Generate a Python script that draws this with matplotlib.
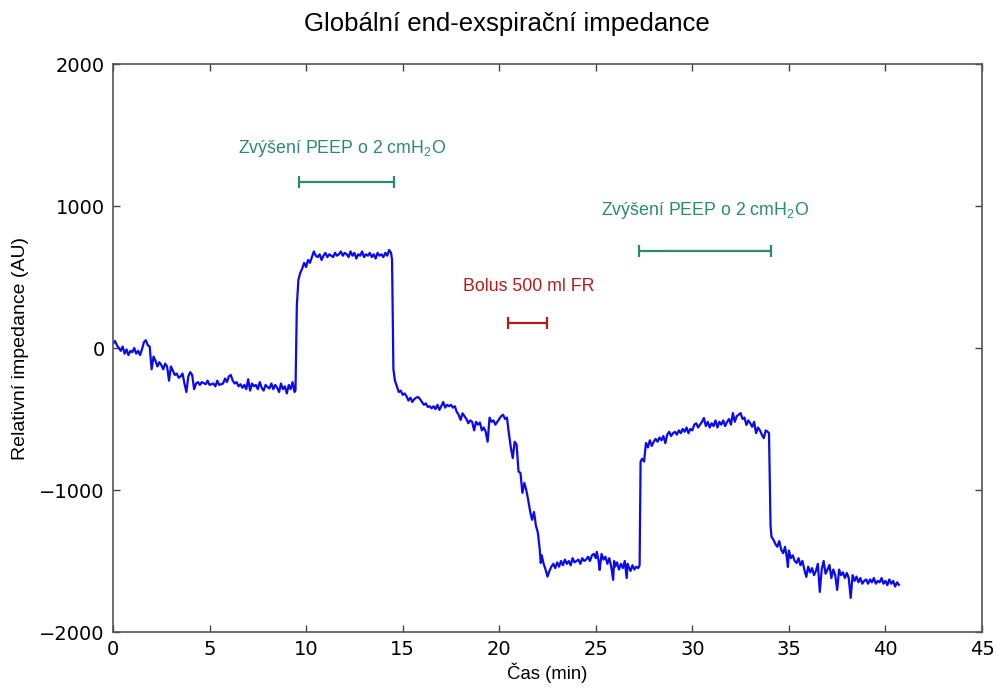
import matplotlib
matplotlib.use("Agg")
import matplotlib.pyplot as plt

plt.rcParams['mathtext.fontset'] = 'custom'
plt.rcParams['mathtext.rm'] = 'Liberation Sans'

# ---- data (time in min, relative impedance in AU) ----
t = [0.0, 0.1, 0.2, 0.3, 0.4, 0.5, 0.6, 0.7, 0.8, 0.9, 1.0, 1.1, 1.2, 1.3, 1.4, 1.5, 1.6, 1.7, 1.8, 1.9,
     2.0, 2.1, 2.2, 2.3, 2.4, 2.5, 2.6, 2.7, 2.8, 2.9, 3.0, 3.1, 3.2, 3.3, 3.4, 3.5, 3.6, 3.7, 3.8, 3.9,
     4.0, 4.1, 4.2, 4.3, 4.4, 4.5, 4.6, 4.8, 4.9, 5.0, 5.2, 5.3, 5.4, 5.5, 5.7, 5.8, 5.9, 6.0, 6.1, 6.2,
     6.3, 6.4, 6.5, 6.6, 6.7, 6.8, 6.9, 7.0, 7.1, 7.2, 7.3, 7.4, 7.5, 7.6, 7.7, 7.8, 7.9, 8.0, 8.1, 8.2,
     8.3, 8.4, 8.5, 8.6, 8.7, 8.8, 8.9, 9.0, 9.1, 9.2, 9.3, 9.4, 9.45,
     9.52, 9.6, 9.7, 9.8, 9.9, 10.0, 10.1, 10.2, 10.3, 10.4, 10.5, 10.6, 10.7, 10.8, 10.9, 11.0, 11.1, 11.2,
     11.3, 11.4, 11.5, 11.6, 11.7, 11.8, 11.9, 12.0, 12.1, 12.2, 12.3, 12.4, 12.5, 12.6, 12.7, 12.8, 12.9,
     13.0, 13.1, 13.2, 13.3, 13.4, 13.5, 13.6, 13.7, 13.8, 13.9, 14.0, 14.1, 14.2, 14.3, 14.4, 14.45,
     14.52, 14.6, 14.7, 14.8, 14.9, 15.0, 15.1, 15.2, 15.3, 15.4, 15.5, 15.6, 15.7, 15.8, 15.9, 16.0, 16.1,
     16.2, 16.3, 16.4, 16.5, 16.6, 16.7, 16.8, 16.9, 17.0, 17.1, 17.2, 17.3, 17.4, 17.5, 17.6, 17.7, 17.8,
     17.9, 18.0, 18.1, 18.2, 18.3, 18.4, 18.5, 18.6, 18.7, 18.8, 18.9, 19.0, 19.1, 19.2, 19.3, 19.4, 19.5,
     19.6, 19.7, 19.8, 19.9, 20.0, 20.1, 20.2, 20.3, 20.4, 20.5, 20.6, 20.7, 20.8, 20.9, 21.0, 21.1, 21.2,
     21.3, 21.4, 21.5, 21.6, 21.7, 21.8, 21.9, 22.0, 22.1, 22.15, 22.2, 22.3, 22.4, 22.5, 22.6, 22.7, 22.8,
     22.9, 23.0, 23.1, 23.2, 23.3, 23.4, 23.5, 23.6, 23.7, 23.8, 23.9, 24.0, 24.1, 24.2, 24.3, 24.4, 24.5,
     24.6, 24.7, 24.8, 24.9, 25.0, 25.05, 25.15, 25.2, 25.3, 25.4, 25.5, 25.6, 25.7, 25.8, 25.9, 25.95,
     26.0, 26.1, 26.2, 26.3, 26.4, 26.5, 26.6, 26.65, 26.7, 26.8, 26.9, 27.0, 27.1, 27.2, 27.27,
     27.32, 27.4, 27.5, 27.6, 27.7, 27.8, 27.9, 28.0, 28.1, 28.2, 28.3, 28.4, 28.5, 28.6, 28.7, 28.8, 28.9,
     29.0, 29.1, 29.2, 29.3, 29.4, 29.5, 29.6, 29.7, 29.8, 29.9, 30.0, 30.1, 30.2, 30.3, 30.4, 30.5, 30.6,
     30.7, 30.8, 30.9, 31.0, 31.1, 31.2, 31.3, 31.4, 31.5, 31.6, 31.7, 31.8, 31.9, 32.0, 32.1, 32.2, 32.3,
     32.4, 32.5, 32.6, 32.7, 32.8, 32.9, 33.0, 33.1, 33.2, 33.3, 33.4, 33.5, 33.6, 33.7, 33.8, 33.9, 33.97,
     34.05, 34.1, 34.2, 34.3, 34.4, 34.5, 34.6, 34.7, 34.8, 34.9, 34.95, 35.0, 35.1, 35.2, 35.3, 35.4,
     35.5, 35.6, 35.7, 35.8, 35.9, 36.0, 36.1, 36.2, 36.3, 36.4, 36.5, 36.6, 36.7, 36.8, 36.9, 37.0, 37.1,
     37.2, 37.3, 37.4, 37.5, 37.6, 37.7, 37.8, 37.9, 38.0, 38.1, 38.2, 38.3, 38.4, 38.5, 38.6, 38.7, 38.8,
     38.9, 39.0, 39.1, 39.2, 39.3, 39.4, 39.5, 39.6, 39.7, 39.8, 39.9, 40.0, 40.1, 40.2, 40.3, 40.4, 40.5,
     40.6, 40.7]

impedance = [30, 50, 20, 0, -20, 10, -40, -10, -50, -20, -30, 0, -40, -20, -50, -10, 40, 55, 20, 10,
     -150, -60, -90, -130, -100, -120, -150, -110, -130, -230, -130, -160, -190, -180, -210, -200, -180, -250, -310, -200,
     -170, -190, -290, -250, -240, -260, -240, -255, -230, -260, -250, -270, -230, -260, -250, -215, -240, -200, -190, -230,
     -250, -240, -270, -255, -280, -260, -290, -220, -300, -250, -270, -260, -290, -240, -280, -300, -260, -275, -285, -250,
     -290, -260, -280, -310, -250, -290, -270, -320, -260, -290, -240, -310, -300,
     300, 480, 530, 560, 600, 570, 620, 600, 640, 680, 650, 640, 660, 620, 650, 670, 640, 660,
     650, 640, 670, 650, 660, 680, 650, 670, 660, 640, 680, 650, 670, 630, 660, 650, 680,
     640, 660, 650, 670, 640, 660, 630, 670, 650, 660, 640, 670, 650, 690, 670, 620,
     -150, -230, -270, -310, -300, -330, -320, -340, -370, -350, -380, -360, -350, -345, -360, -380, -400,
     -390, -415, -410, -425, -410, -430, -400, -436, -410, -380, -420, -400, -410, -400, -420, -410, -450,
     -470, -507, -460, -480, -500, -530, -510, -520, -580, -520, -540, -525, -580, -560, -590, -660, -490,
     -520, -510, -540, -520, -500, -480, -470, -500, -490, -600, -700, -775, -660, -680, -870, -880, -1020,
     -950, -1000, -1070, -1150, -1210, -1155, -1250, -1300, -1420, -1514, -1460, -1520, -1560, -1610, -1570, -1540, -1520,
     -1550, -1510, -1540, -1500, -1530, -1490, -1520, -1500, -1530, -1480, -1510, -1500, -1490, -1520, -1480, -1500, -1490,
     -1470, -1500, -1460, -1450, -1480, -1436, -1500, -1563, -1450, -1490, -1470, -1520, -1480, -1540, -1633, -1500,
     -1540, -1510, -1560, -1520, -1550, -1500, -1620, -1520, -1540, -1570, -1530, -1560, -1540, -1550, -1530,
     -800, -780, -800, -669, -700, -650, -690, -660, -640, -660, -630, -650, -620, -670, -610, -590, -620,
     -600, -590, -610, -580, -600, -570, -590, -560, -600, -570, -580, -540, -530, -560, -540, -520, -493,
     -550, -520, -560, -530, -550, -510, -560, -520, -540, -510, -550, -520, -500, -540, -458, -520, -480,
     -470, -458, -500, -490, -542, -510, -530, -555, -520, -600, -560, -580, -610, -635, -580, -590, -600,
     -1250, -1330, -1350, -1380, -1400, -1360, -1420, -1445, -1400, -1480, -1542, -1426, -1480, -1460, -1500, -1514,
     -1480, -1530, -1500, -1560, -1612, -1540, -1580, -1550, -1600, -1570, -1520, -1718, -1560, -1500, -1590, -1560, -1528,
     -1620, -1560, -1600, -1704, -1560, -1600, -1580, -1620, -1584, -1620, -1760, -1600, -1640, -1610, -1650, -1620, -1660,
     -1640, -1630, -1660, -1630, -1650, -1620, -1660, -1640, -1650, -1620, -1660, -1640, -1670, -1630, -1660, -1640, -1680,
     -1650, -1668]

# annotation intervals (min) and levels (AU)
peep1_range = [9.63, 14.55]
peep1_level = 1170
peep2_range = [27.24, 34.07]
peep2_level = 683
bolus_range = [20.46, 22.48]
bolus_level = 176
peep_label = r'Zvýšení PEEP o 2 cmH$\mathregular{_2}$O'
bolus_label = 'Bolus 500 ml FR'

x_ticks = [0, 5, 10, 15, 20, 25, 30, 35, 40, 45]
y_ticks = [-2000, -1000, 0, 1000, 2000]

GREEN = '#2b8a6c'
RED = '#b31b1b'

fig = plt.figure(figsize=(9.98, 6.89), dpi=100)
ax = fig.add_axes([113/998, 1 - 632/689, (982-113)/998, (632-64)/689])

ax.plot(t, impedance, color='#0a0aee', lw=1.6)

for rng, lvl, col in [(peep1_range, peep1_level, GREEN), (peep2_range, peep2_level, GREEN),
                      (bolus_range, bolus_level, RED)]:
    c = (rng[0] + rng[1]) / 2
    h = (rng[1] - rng[0]) / 2
    ax.errorbar([c], [lvl], xerr=[h], fmt='none', ecolor=col, elinewidth=1.6, capsize=4.6, capthick=1.6)

lab_font = dict(family='Liberation Sans', fontsize=12.8)
ax.text(11.86, 1408, peep_label, color=GREEN, ha='center', va='center', **lab_font)
ax.text(30.66, 971, peep_label, color=GREEN, ha='center', va='center', **lab_font)
ax.text(21.54, 436, bolus_label, color=RED, ha='center', va='center', **lab_font)

ax.set_xlim(0, 45)
ax.set_ylim(-2000, 2000)
ax.set_xticks(x_ticks)
ax.set_yticks(y_ticks)
ax.tick_params(direction='in', top=True, right=True, length=5, width=1, color='#444444',
               labelsize=14, pad=6)
for lbl in ax.get_xticklabels() + ax.get_yticklabels():
    lbl.set_family('DejaVu Sans')
for s in ax.spines.values():
    s.set_color('#555555')
    s.set_linewidth(1.2)

ax.set_xlabel('Čas (min)', family='Liberation Sans', fontsize=13.3, labelpad=2)
ax.set_ylabel('Relativní impedance (AU)', family='Liberation Sans', fontsize=14, labelpad=7)
fig.text(0.5075, 1 - 24/689, 'Globální end-exspirační impedance', family='Liberation Sans',
         fontsize=18.5, ha='center', va='center')

fig.savefig('out.png', dpi=100)
